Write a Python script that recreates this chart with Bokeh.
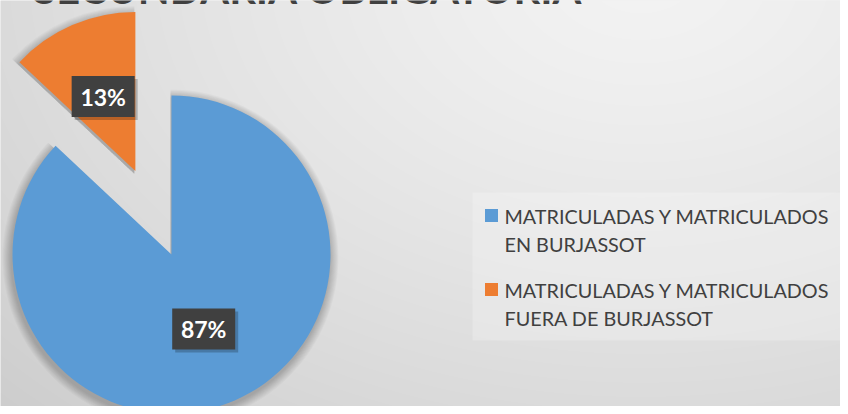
import numpy as np
from bokeh.plotting import figure
from bokeh.models import ColumnDataSource, Range1d
from bokeh.core.properties import value
from bokeh.embed import file_html
from bokeh.resources import INLINE

# ---- data ----
title = "SECUNDARIA OBLIGATORIA"
categories = ["MATRICULADAS Y MATRICULADOS\nEN BURJASSOT",
              "MATRICULADAS Y MATRICULADOS\nFUERA DE BURJASSOT"]
values = [87, 13]
colors = ["#5B9BD5", "#ED7D31"]

# ---- layout / style ----
W, H = 840, 406
CX, CY, R = 171, 152, 159
EXPLODE = [0, 91]
FONT = "Lato"

p = figure(width=W, height=H, x_range=Range1d(0, W), y_range=Range1d(0, H),
           output_backend="svg", toolbar_location=None, min_border=0)
p.axis.visible = False
p.grid.visible = False
p.outline_line_color = None
p.background_fill_color = "#e4e4e4"
p.border_fill_color = "#e4e4e4"

# gradient background
yy, xx = np.mgrid[0:H, 0:W]
d = np.sqrt(((xx - 640) / 900.0) ** 2 + ((yy - 430) / 620.0) ** 2)
d = np.clip(d, 0, 1)
g = (243 - (243 - 205) * d ** 1.3).astype(np.uint32)
img = (255 << 24) | (g << 16) | (g << 8) | g
p.image_rgba(image=[img.view(np.uint32)], x=0, y=0, dw=W, dh=H)

# title (mostly cut off above the top edge, as in the original)
p.text(x=[33], y=[H + 13], text=[title], text_font=value(FONT), text_font_style="bold",
       text_font_size="41.5px", text_color="#404040", text_baseline="alphabetic")

# pie geometry
total = float(sum(values))
fr = [v / total for v in values]
starts, ends, mids, cxs, cys = [], [], [], [], []
ang = np.pi / 2
for i, f in enumerate(fr):
    s = ang
    e = ang - f * 2 * np.pi
    m = (s + e) / 2
    starts.append(e)
    ends.append(s)
    mids.append(m)
    cxs.append(CX + EXPLODE[i] * np.cos(m))
    cys.append(CY + EXPLODE[i] * np.sin(m))
    ang = e

# soft shadow
for k in range(1, 11):
    p.wedge(x=[cx - 1 for cx in cxs], y=[cy - 3 for cy in cys], radius=R + k * 0.9,
            start_angle=starts, end_angle=ends, fill_color="black", fill_alpha=0.022,
            line_color=None)

src = ColumnDataSource(dict(x=cxs, y=cys, start=starts, end=ends, color=colors))
p.wedge(x="x", y="y", radius=R, start_angle="start", end_angle="end",
        fill_color="color", line_color=None, source=src)

# data labels
lx = [cxs[i] + 0.51 * R * np.cos(mids[i]) for i in range(len(values))]
ly = [cys[i] + 0.51 * R * np.sin(mids[i]) for i in range(len(values))]
lt = [f"{v}%" for v in values]
p.rect(x=[x + 3 for x in lx], y=[y - 3 for y in ly], width=63, height=41,
       fill_color="black", fill_alpha=0.22, line_color=None)
p.rect(x=lx, y=ly, width=63, height=41, fill_color="#404040", line_color=None)
p.text(x=lx, y=ly, text=lt, text_font=value(FONT), text_font_style="bold",
       text_font_size="23px", text_color="white", text_align="center",
       text_baseline="middle")

# legend
p.quad(left=[472], right=[W], bottom=[H - 340], top=[H - 192],
       fill_color="white", fill_alpha=0.22, line_color=None)
leg_y = [H - 215, H - 289]
p.rect(x=[491] * 2, y=leg_y, width=13, height=13, fill_color=colors, line_color=None)
tx, ty = [], []
for i, c in enumerate(categories):
    for j, line in enumerate(c.split("\n")):
        tx.append(line)
        ty.append(leg_y[i] - j * 28)
p.text(x=[504] * len(tx), y=ty, text=tx, text_font=value(FONT), text_font_size="19.8px",
       text_color="#404040", text_baseline="middle")

open("out.html", "w").write(file_html(p, INLINE))
